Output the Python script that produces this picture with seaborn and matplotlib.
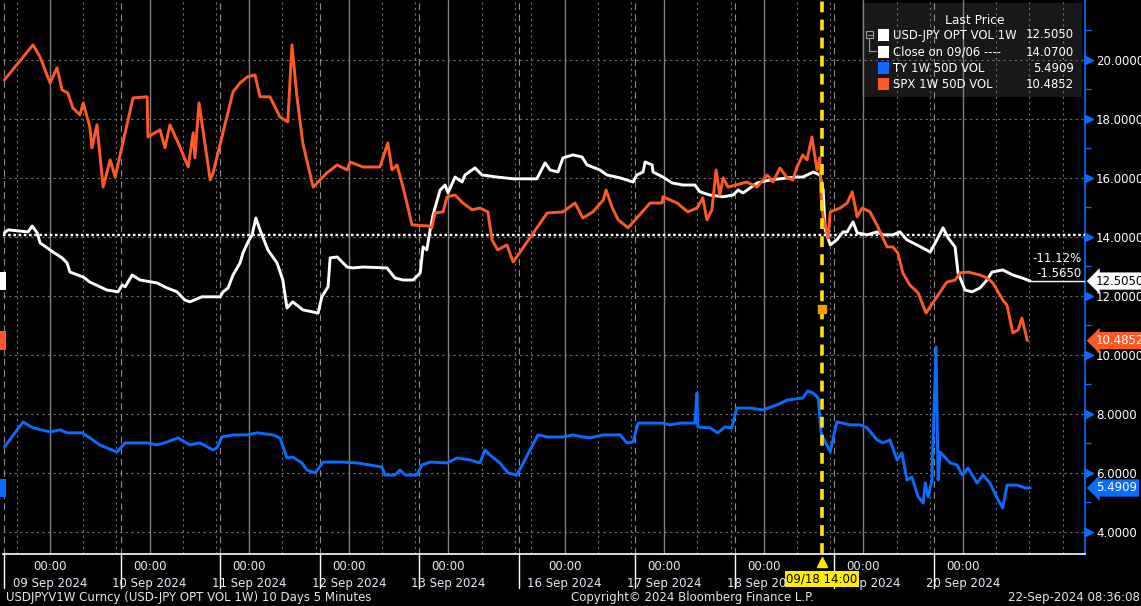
import numpy as np
import pandas as pd
import matplotlib
matplotlib.use("Agg")
import matplotlib.pyplot as plt
import matplotlib.transforms as mtransforms
from matplotlib.patches import Rectangle
from matplotlib.lines import Line2D
import seaborn as sns

# x axis is trading time in hours; hour 0 = start of the 09 Sep session (Sun 13:00)
usdjpy_hours = [0, 0.9, 5.7, 6.7, 7.9, 8.6, 10.3, 11.7, 13.9, 15.1,
                15.8, 19.0, 20.6, 23.0, 24.7, 27.4, 28.4, 29.1, 30.8, 32.7,
                36.8, 39.2, 41.6, 43.5, 44.7, 47.6, 52.0, 52.7, 53.9, 55.1,
                56.8, 57.5, 58.7, 59.7, 60.6, 61.6, 63.5, 65.7, 67.1, 68.1,
                69.5, 71.9, 75.6, 76.5, 78.0, 78.5, 80.2, 82.6, 84.0, 86.4,
                92.2, 94.1, 96.1, 98.5, 100.2, 100.9, 101.8, 102.6, 103.3, 105.0,
                106.2, 106.9, 108.6, 110.3, 111.0, 113.4, 115.1, 118.7, 122.6, 128.3,
                130.3, 131.5, 133.4, 134.6, 137.0, 139.2, 140.4, 143.5, 145.2, 148.4,
                151.5, 152.4, 153.9, 154.4, 156.1, 156.3, 158.7, 160.9, 163.5, 166.4,
                167.6, 170.0, 173.2, 175.6, 176.8, 178.0, 181.4, 184.5, 188.6, 191.0,
                192.4, 194.9, 196.5, 197.3, 197.8, 199.0, 200.6, 202.1, 203.1, 204.5,
                205.5, 207.9, 210.3, 211.7, 214.1, 215.8, 217.5, 219.9, 223.1, 224.7,
                226.2, 227.4, 229.1, 229.8, 231.5, 233.2, 235.1, 236.8, 238.0, 240.6,
                243.0, 245.2, 247.2]
usdjpy_vol = [14.14, 14.24, 14.17, 14.37, 14.14, 13.80, 13.63, 13.49, 13.29, 13.12,
              12.81, 12.64, 12.47, 12.31, 12.20, 12.14, 12.37, 12.31, 12.71, 12.54,
              12.44, 12.27, 12.14, 11.86, 11.80, 11.97, 11.97, 12.14, 12.27, 12.71,
              13.12, 13.46, 13.83, 14.07, 14.64, 14.24, 13.56, 13.12, 12.54, 11.59,
              11.80, 11.53, 11.42, 11.97, 12.31, 13.29, 13.32, 12.98, 12.95, 12.98,
              12.95, 12.61, 12.54, 12.54, 12.78, 13.66, 13.56, 14.24, 14.75, 15.59,
              15.76, 15.49, 16.03, 15.86, 16.10, 16.34, 16.10, 16.03, 15.97, 15.97,
              16.51, 16.27, 16.20, 16.68, 16.78, 16.71, 16.44, 16.27, 16.10, 16.00,
              15.86, 16.10, 16.20, 16.54, 16.44, 16.20, 16.03, 15.83, 15.76, 15.76,
              15.53, 15.42, 15.36, 15.42, 15.59, 15.49, 15.83, 15.93, 16.00, 16.03,
              16.03, 16.20, 16.10, 15.59, 14.24, 13.73, 13.90, 14.17, 14.17, 14.51,
              14.14, 14.07, 14.17, 14.07, 14.07, 14.17, 13.90, 13.73, 13.49, 13.90,
              14.31, 13.97, 13.66, 12.78, 12.20, 12.14, 12.27, 12.54, 12.81, 12.88,
              12.71, 12.61, 12.505]

spx_hours = [0, 6.9, 8.6, 11.0, 12.7, 13.9, 15.3, 16.5, 18.2, 19.0,
             20.6, 21.1, 22.3, 23.8, 25.5, 26.7, 31.0, 34.4, 34.6, 37.5,
             38.7, 39.9, 42.3, 44.3, 45.5, 45.9, 46.9, 49.6, 50.3, 55.1,
             56.8, 58.5, 60.4, 61.6, 64.0, 66.4, 68.3, 69.3, 70.5, 71.9,
             74.4, 77.7, 80.2, 82.6, 83.3, 86.4, 90.5, 92.4, 93.4, 94.6,
             95.8, 97.0, 98.2, 102.1, 103.0, 103.8, 105.7, 106.7, 108.6, 110.5,
             112.7, 114.6, 116.5, 117.5, 118.9, 121.1, 122.6, 130.8, 134.6, 137.5,
             139.4, 141.8, 144.3, 145.0, 146.4, 147.9, 150.3, 155.6, 158.5, 158.7,
             162.1, 164.7, 166.9, 168.3, 169.3, 170.5, 171.5, 172.4, 173.2, 174.4,
             178.9, 181.4, 183.8, 185.2, 186.9, 188.6, 190.0, 191.0, 192.4, 193.4,
             194.6, 195.8, 196.5, 196.8, 197.3, 198.5, 199.0, 201.4, 203.1, 204.3,
             205.5, 206.7, 208.6, 210.5, 212.7, 214.1, 215.3, 216.5, 218.2, 220.2,
             222.1, 224.7, 227.1, 229.1, 230.3, 232.2, 235.1, 236.8, 238.2, 240.6,
             241.6, 243.0, 244.3, 245.2, 246.5]
spx_vol = [19.32, 20.51, 20.10, 19.22, 19.73, 18.98, 18.88, 18.37, 18.14, 18.54,
           17.73, 17.02, 17.80, 15.69, 16.61, 16.03, 18.71, 18.75, 17.39, 17.63,
           17.02, 17.80, 17.05, 16.37, 17.53, 16.68, 18.54, 15.93, 16.17, 18.92,
           19.22, 19.42, 19.49, 18.75, 18.75, 18.07, 17.90, 20.51, 18.75, 17.19,
           15.69, 16.17, 16.44, 16.27, 16.54, 16.37, 16.37, 17.19, 16.27, 16.44,
           15.83, 15.15, 14.41, 14.37, 14.31, 14.81, 14.85, 15.36, 15.42, 15.15,
           14.92, 14.98, 14.85, 13.90, 13.56, 13.73, 13.15, 14.81, 14.85, 15.15,
           14.64, 14.85, 15.25, 15.59, 15.02, 14.58, 14.31, 15.15, 15.15, 15.36,
           15.15, 14.85, 14.98, 15.32, 14.58, 14.92, 16.27, 15.42, 16.00, 15.69,
           15.86, 15.69, 16.10, 15.86, 16.34, 16.00, 15.93, 16.37, 16.78, 16.61,
           17.39, 16.27, 16.68, 15.36, 14.68, 13.97, 14.85, 14.98, 15.15, 15.53,
           14.68, 14.98, 14.85, 14.34, 13.66, 13.66, 13.46, 12.78, 12.37, 12.10,
           11.42, 11.97, 12.47, 12.54, 12.78, 12.81, 12.71, 12.61, 12.44, 11.86,
           11.69, 10.75, 10.85, 11.25, 10.4852]

ty_hours = [0, 4.5, 6.9, 11.0, 13.4, 15.1, 18.7, 20.6, 23.0, 27.1,
            29.1, 34.4, 36.8, 39.2, 41.8, 44.7, 47.1, 50.3, 51.2, 52.4,
            55.1, 58.5, 60.9, 64.7, 66.4, 68.1, 69.5, 71.7, 72.9, 74.9,
            76.8, 81.6, 85.0, 88.1, 91.0, 91.7, 94.1, 95.3, 96.6, 99.4,
            100.6, 102.6, 106.7, 109.1, 112.2, 114.6, 115.8, 117.0, 119.4, 121.4,
            123.5, 128.6, 130.8, 134.6, 137.0, 139.4, 141.1, 144.3, 148.4, 150.0,
            151.5, 152.7, 155.6, 158.7, 160.4, 162.8, 166.4, 166.9, 167.1, 170.0,
            171.9, 173.6, 175.3, 176.5, 179.7, 182.8, 186.2, 188.6, 192.4, 193.6,
            194.9, 196.1, 196.8, 197.3, 199.0, 200.6, 203.8, 206.2, 207.9, 210.3,
            211.7, 213.4, 215.1, 216.3, 217.5, 218.7, 220.2, 221.4, 221.9, 222.6,
            223.5, 224.5, 225.0, 225.5, 227.9, 229.6, 230.8, 232.2, 234.4, 235.8,
            237.5, 239.2, 240.6, 241.6, 244.0, 246.0, 247.2]
ty_vol = [6.88, 7.73, 7.53, 7.39, 7.46, 7.36, 7.36, 7.19, 6.95, 6.71,
          7.02, 7.02, 6.95, 7.05, 7.19, 6.95, 7.02, 6.78, 6.85, 7.22,
          7.29, 7.29, 7.36, 7.29, 7.19, 6.51, 6.54, 6.34, 6.10, 6.00,
          6.37, 6.37, 6.34, 6.27, 6.20, 5.93, 5.93, 6.10, 5.93, 5.93,
          6.27, 6.37, 6.34, 6.51, 6.44, 6.34, 6.78, 6.61, 6.34, 6.00,
          5.93, 7.29, 7.22, 7.22, 7.29, 7.22, 7.19, 7.29, 7.29, 7.02,
          7.05, 7.69, 7.69, 7.69, 7.63, 7.69, 7.69, 8.71, 7.56, 7.53,
          7.36, 7.56, 7.53, 8.20, 8.20, 8.14, 8.31, 8.47, 8.54, 8.78,
          8.71, 8.54, 7.36, 7.19, 6.71, 7.73, 7.63, 7.63, 7.53, 7.12,
          7.02, 7.12, 6.44, 6.68, 5.76, 5.86, 5.19, 4.98, 5.66, 5.19,
          5.76, 10.27, 5.76, 6.71, 6.34, 6.27, 5.93, 6.17, 5.66, 5.93,
          5.66, 5.15, 4.81, 5.59, 5.59, 5.49, 5.4909]

close_0906 = 14.07
last_usdjpy = 12.5050
last_ty = 5.4909
last_spx = 10.4852
chg_pct = "-11.12%"
chg_abs = "-1.5650"

midnight_hours = [11, 35, 59, 83, 107, 135, 159, 183, 207, 231]
day_labels = ["09 Sep 2024", "10 Sep 2024", "11 Sep 2024", "12 Sep 2024", "13 Sep 2024",
              "16 Sep 2024", "17 Sep 2024", "18 Sep 2024", "19 Sep 2024", "20 Sep 2024"]
session_starts = [0, 28, 52, 76, 100, 124, 152, 176, 200, 224]
event_hour = 197
event_level = 11.55
event_label = "09/18 14:00"

WHITE = "#ffffff"
ORANGE = "#ff5a24"
BLUE = "#0a6cff"
GRID = "#707070"

sns.set_style("dark", {
    "axes.facecolor": "black",
    "figure.facecolor": "black",
    "text.color": "white",
    "axes.labelcolor": "white",
    "xtick.color": "white",
    "ytick.color": "white",
    "axes.grid": False,
})
plt.rcParams["font.family"] = ["DejaVu Sans"]

W, H = 1141, 606
fig = plt.figure(figsize=(W / 100, H / 100), dpi=100, facecolor="black")
ax = fig.add_axes([3 / W, 52 / H, 1082 / W, 554 / H])
ax.set_facecolor("black")

usdjpy = pd.DataFrame({"hour": usdjpy_hours, "vol": usdjpy_vol})
spx = pd.DataFrame({"hour": spx_hours, "vol": spx_vol})
ty = pd.DataFrame({"hour": ty_hours, "vol": ty_vol})

sns.lineplot(data=usdjpy, x="hour", y="vol", ax=ax, color=WHITE, lw=2.1,
             estimator=None, sort=False, zorder=4)
sns.lineplot(data=ty, x="hour", y="vol", ax=ax, color=BLUE, lw=2.1,
             estimator=None, sort=False, zorder=4)
sns.lineplot(data=spx, x="hour", y="vol", ax=ax, color=ORANGE, lw=2.1,
             estimator=None, sort=False, zorder=5)

ax.set_xlim(-0.33, 260.4)
ax.set_ylim(3.254, 22.03)
ax.set_xlabel("")
ax.set_ylabel("")

# grid
yticks = list(range(4, 21, 2))
for v in yticks:
    ax.axhline(v, color=GRID, lw=0.8, ls=(0, (2, 3)), zorder=1)
for h in midnight_hours:
    ax.axvline(h, color="#808080", lw=1.0, zorder=1)
dotted = sorted(set([m + d for m in midnight_hours for d in (-8, 8, 16)] + [255]))
for h in dotted:
    ax.axvline(h, color=GRID, lw=0.8, ls=(0, (2, 3)), zorder=1)
for h in session_starts:
    ax.axvline(h, color="#8c8c8c", lw=0.8, ls=(0, (6, 4)), zorder=1)
    ax.axvline(h, ymin=-0.062, ymax=0, color="white", lw=1.0, clip_on=False)

# close on 09/06 reference line
ax.axhline(close_0906, color=WHITE, lw=1.7, ls=(0, (1.1, 1.1)), zorder=3)

# event marker
ax.axvline(event_hour, color="#ffe600", lw=2.6, ls=(0, (3, 2)), zorder=6)
ax.plot([event_hour], [event_level], marker="s", ms=6, color="#f39a0c", zorder=7)

# axes styling
for side in ("left", "top"):
    ax.spines[side].set_visible(False)
ax.spines["right"].set_color(BLUE)
ax.spines["right"].set_linewidth(1.2)
ax.spines["bottom"].set_color("white")
ax.spines["bottom"].set_linewidth(1.2)

ax.yaxis.tick_right()
ax.set_yticks(yticks)
ax.set_yticklabels([f"{v:.4f}" for v in yticks])
ax.set_yticks(list(range(5, 22, 2)), minor=True)
ax.tick_params(axis="y", which="major", length=0, pad=8, labelsize=8.5, labelcolor="white")
ax.tick_params(axis="y", which="minor", length=4, width=1, color=BLUE, direction="out")

ax.set_xticks(midnight_hours)
ax.set_xticklabels([f"00:00\n{d}" for d in day_labels], linespacing=1.45)
ax.set_xticks(np.arange(3, 260, 4), minor=True)
ax.tick_params(axis="x", which="major", length=0, pad=4, labelsize=8.5, labelcolor="#e4ecf6")
ax.tick_params(axis="x", which="minor", length=3, width=1, color="white", direction="out")

right_edge = mtransforms.blended_transform_factory(ax.transAxes, ax.transData)
left_edge = mtransforms.blended_transform_factory(ax.transAxes, ax.transData)


def shifted(dx, dy=0):
    return right_edge + mtransforms.ScaledTranslation(dx / 100, dy / 100, fig.dpi_scale_trans)


# triangle tick marks on the right axis
ax.plot(np.ones(len(yticks)), yticks, ls="none", marker=">", ms=5.5, color=BLUE,
        transform=shifted(3.5), clip_on=False)

# last value badges
for val, fc, tc in [(last_usdjpy, "white", "black"), (last_spx, ORANGE, "white"),
                    (last_ty, BLUE, "white")]:
    ax.text(1, val, f"{val:.4f}", transform=shifted(11), ha="left", va="center",
            fontsize=8.5, color=tc, clip_on=False, zorder=8,
            bbox=dict(boxstyle="larrow,pad=0.18", fc=fc, ec="none"))
    ax.text(0, val, f"{val:.4f}", transform=left_edge, ha="right", va="center",
            fontsize=8.5, color=fc, clip_on=False, zorder=8,
            bbox=dict(boxstyle="square,pad=0.25", fc=fc, ec="none"))

# change annotation at the end of the USDJPY line
ax.hlines(last_usdjpy, usdjpy_hours[-1], 260.4, color="white", lw=1.0, zorder=4)
ax.text(1, last_usdjpy, chg_pct, transform=shifted(-3, 23), ha="right", va="center",
        fontsize=8.5, color="white", zorder=8)
ax.text(1, last_usdjpy, chg_abs, transform=shifted(-3, 8), ha="right", va="center",
        fontsize=8.5, color="white", zorder=8)

# event label under the axis
bottom_tr = mtransforms.blended_transform_factory(ax.transData, ax.transAxes)
ax.plot([event_hour], [-0.015], marker="^", ms=7, color="#ffe600",
        transform=bottom_tr, clip_on=False, zorder=9)
ax.text(event_hour, -0.045, event_label, transform=bottom_tr, ha="center", va="center",
        fontsize=8.5, color="black", clip_on=False, zorder=9,
        bbox=dict(boxstyle="square,pad=0.12", fc="#ffee00", ec="none"))


# legend panel
def fxy(x, y):
    return (x / W, 1 - y / H)


ax.add_patch(Rectangle(fxy(862, 97), 220 / W, 94 / H, transform=fig.transFigure,
                       fc="#181818", ec="none", zorder=0.5, clip_on=False))
ax.text(*fxy(975, 20), "Last Price", transform=fig.transFigure, ha="center", va="center",
        fontsize=8.8, color="white", zorder=8)
rows = [("USD-JPY OPT VOL 1W", last_usdjpy, WHITE, 35),
        ("Close on 09/06 ----", close_0906, WHITE, 52),
        ("TY 1W 50D VOL", last_ty, BLUE, 68),
        ("SPX 1W 50D VOL", last_spx, ORANGE, 84)]
for name, val, col, y in rows:
    ax.add_patch(Rectangle(fxy(878, y + 5.5), 11 / W, 11 / H, transform=fig.transFigure,
                           fc=col, ec="none", zorder=8, clip_on=False))
    ax.text(*fxy(893, y), name, transform=fig.transFigure, ha="left", va="center",
            fontsize=8.4, color="white", zorder=8)
    ax.text(*fxy(1074, y), f"{val:.4f}", transform=fig.transFigure, ha="right", va="center",
            fontsize=8.4, color="white", zorder=8)
# tree connector next to the first two rows
ax.add_patch(Rectangle(fxy(866, 38), 7 / W, 7 / H, transform=fig.transFigure,
                       fc="none", ec="#9a9a9a", lw=0.8, zorder=8, clip_on=False))
ax.add_line(Line2D([867.5 / W, 871.5 / W], [1 - 34.5 / H, 1 - 34.5 / H],
                   transform=fig.transFigure, color="#9a9a9a", lw=0.8, zorder=8))
ax.add_line(Line2D([869.5 / W, 869.5 / W, 876 / W], [1 - 38 / H, 1 - 51 / H, 1 - 51 / H],
                   transform=fig.transFigure, color="#9a9a9a", lw=0.8, zorder=8))

# footer
fig.text(6 / W, 1 - 597 / H, "USDJPYV1W Curncy (USD-JPY OPT VOL 1W) 10 Days 5 Minutes",
         ha="left", va="center", fontsize=8.5, color="#e6e6e6")
fig.text(571 / W, 1 - 597 / H, "Copyright\u00a9 2024 Bloomberg Finance L.P.",
         ha="left", va="center", fontsize=8.5, color="#e6e6e6")
fig.text(1140 / W, 1 - 597 / H, "22-Sep-2024 08:36:08",
         ha="right", va="center", fontsize=8.5, color="#e6e6e6")

fig.savefig("out.png", dpi=100, facecolor="black")
